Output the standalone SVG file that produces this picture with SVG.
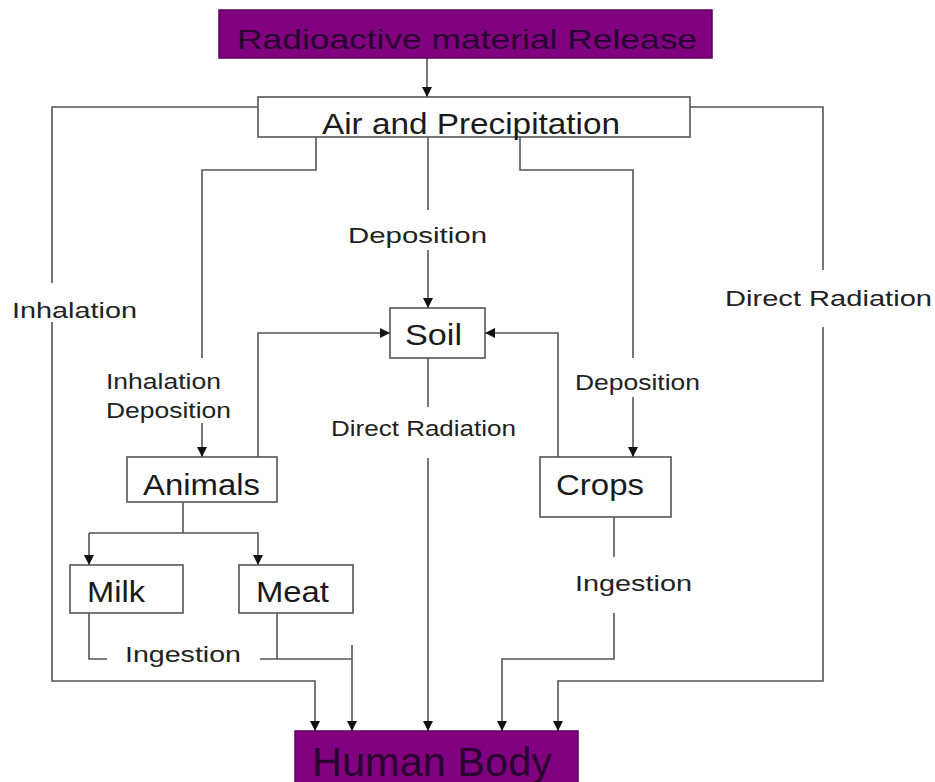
<svg xmlns="http://www.w3.org/2000/svg" width="935" height="782" viewBox="0 0 935 782">
<style>
.box{fill:#fff;stroke:#555;stroke-width:1.6}
.pbox{fill:#800080;stroke:#5a005a;stroke-width:1.5}
.t{font-family:"Liberation Sans",Arial,sans-serif;fill:#1a1a1a;font-size:30px}
.pt{font-family:"Liberation Sans",Arial,sans-serif;fill:#2a0430}
.c path{fill:none;stroke:#555;stroke-width:1.6}
.lbl{font-family:"Liberation Sans",Arial,sans-serif;fill:#222;font-size:22px}
</style>
<defs>
<marker id="a" viewBox="0 0 10 10" refX="10" refY="5" markerWidth="10" markerHeight="10" markerUnits="userSpaceOnUse" orient="auto">
<path d="M0,0 L10,5 L0,10 z" fill="#111"/>
</marker>
</defs>
<rect width="935" height="782" fill="#fff"/>
<g class="c" id="connectors">
<path d="M427,58 V97" marker-end="url(#a)"/>
<path d="M258,107 H52 V283"/>
<path d="M52,322 V681 H315 V731" marker-end="url(#a)"/>
<path d="M690,107 H823 V270"/>
<path d="M823,327 V681 H558 V731" marker-end="url(#a)"/>
<path d="M316,137 V170 H202 V358"/>
<path d="M202,423 V457" marker-end="url(#a)"/>
<path d="M428,137 V210"/>
<path d="M428,250 V308" marker-end="url(#a)"/>
<path d="M520,137 V170 H633 V358"/>
<path d="M633,397 V457" marker-end="url(#a)"/>
<path d="M428,358 V407"/>
<path d="M428,458 V731" marker-end="url(#a)"/>
<path d="M258,457 V333 H390" marker-end="url(#a)"/>
<path d="M558,457 V333 H485" marker-end="url(#a)"/>
<path d="M183,502 V533"/>
<path d="M89,533 H258 V565" marker-end="url(#a)"/>
<path d="M89,533 V565" marker-end="url(#a)"/>
<path d="M89,613 V659 H107"/>
<path d="M260,659 H352"/>
<path d="M277,613 V659"/>
<path d="M352,645 V731" marker-end="url(#a)"/>
<path d="M614,517 V557"/>
<path d="M614,613 V659 H502 V731" marker-end="url(#a)"/>
</g>
<g id="release">
<rect class="pbox" x="219" y="10" width="493" height="48"/>
<text class="pt" x="237" y="49" font-size="28" textLength="460" lengthAdjust="spacingAndGlyphs">Radioactive material Release</text>
</g>
<g id="air">
<rect class="box" x="258" y="97" width="432" height="40"/>
<text class="t" x="322" y="134" textLength="298" lengthAdjust="spacingAndGlyphs">Air and Precipitation</text>
</g>
<g id="soil">
<rect class="box" x="390" y="308" width="95" height="50"/>
<text class="t" x="405" y="345" textLength="57" lengthAdjust="spacingAndGlyphs">Soil</text>
</g>
<g id="animals">
<rect class="box" x="127" y="457" width="150" height="45"/>
<text class="t" x="143" y="495" textLength="117" lengthAdjust="spacingAndGlyphs">Animals</text>
</g>
<g id="crops">
<rect class="box" x="540" y="457" width="131" height="60"/>
<text class="t" x="556" y="495" textLength="88" lengthAdjust="spacingAndGlyphs">Crops</text>
</g>
<g id="milk">
<rect class="box" x="70" y="565" width="113" height="48"/>
<text class="t" x="87" y="602" textLength="58" lengthAdjust="spacingAndGlyphs">Milk</text>
</g>
<g id="meat">
<rect class="box" x="239" y="565" width="114" height="48"/>
<text class="t" x="256" y="602" textLength="73" lengthAdjust="spacingAndGlyphs">Meat</text>
</g>
<g id="human">
<rect class="pbox" x="295" y="731" width="283" height="55"/>
<text class="pt" x="312" y="776" font-size="40" textLength="240" lengthAdjust="spacingAndGlyphs">Human Body</text>
</g>
<g id="labels">
<text class="lbl" x="12" y="318" font-size="25" textLength="125" lengthAdjust="spacingAndGlyphs">Inhalation</text>
<text class="lbl" x="725" y="306" font-size="25" textLength="207" lengthAdjust="spacingAndGlyphs">Direct Radiation</text>
<text class="lbl" x="348" y="243" font-size="25" textLength="139" lengthAdjust="spacingAndGlyphs">Deposition</text>
<text class="lbl" x="106" y="389" textLength="115" lengthAdjust="spacingAndGlyphs">Inhalation</text>
<text class="lbl" x="106" y="418" textLength="125" lengthAdjust="spacingAndGlyphs">Deposition</text>
<text class="lbl" x="575" y="390" textLength="125" lengthAdjust="spacingAndGlyphs">Deposition</text>
<text class="lbl" x="331" y="436" textLength="185" lengthAdjust="spacingAndGlyphs">Direct Radiation</text>
<text class="lbl" x="125" y="662" textLength="116" lengthAdjust="spacingAndGlyphs">Ingestion</text>
<text class="lbl" x="575" y="591" textLength="117" lengthAdjust="spacingAndGlyphs">Ingestion</text>
</g>
</svg>
